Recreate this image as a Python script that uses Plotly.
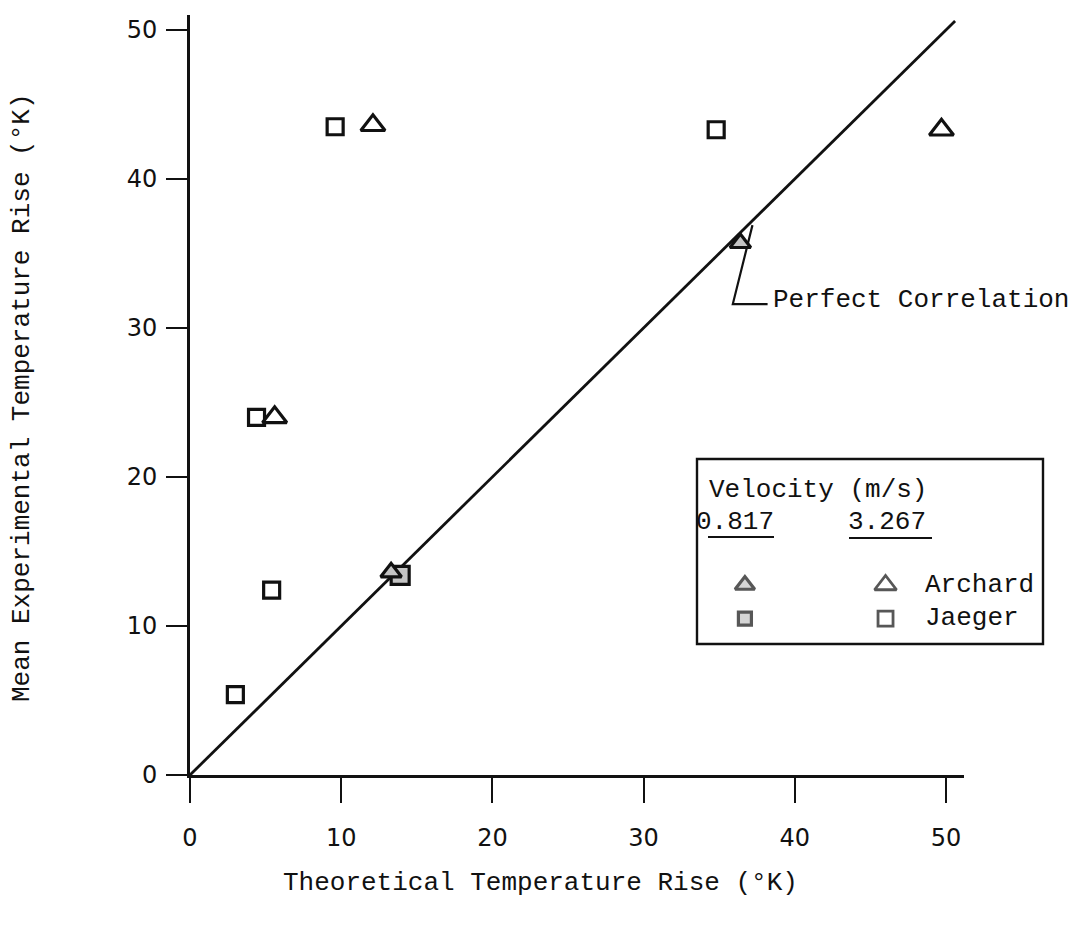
import plotly.graph_objects as go

# ---- data ----
archard_3267_x = [12.1, 49.7, 5.6]
archard_3267_y = [43.6, 43.3, 24.0]
jaeger_3267_x = [9.6, 34.8, 4.4, 5.4, 3.0]
jaeger_3267_y = [43.5, 43.3, 24.0, 12.4, 5.4]
archard_0817_x = [13.3, 36.4]
archard_0817_y = [13.6, 35.7]
jaeger_0817_x = [13.9]
jaeger_0817_y = [13.4]
perfect_x = [0, 50.6]
perfect_y = [0, 50.6]

x_ticks = [0, 10, 20, 30, 40, 50]
y_ticks = [0, 10, 20, 30, 40, 50]

MONO = "Liberation Mono"
INK = "#111111"
GRAY = "#c4c4c4"

fig = go.Figure()

# perfect correlation line
fig.add_trace(go.Scatter(x=perfect_x, y=perfect_y, mode="lines",
                         line=dict(color=INK, width=2.8), hoverinfo="skip"))

# leader line for "Perfect Correlation"
fig.add_trace(go.Scatter(x=[37.2, 35.9, 38.2], y=[36.9, 31.6, 31.6], mode="lines",
                         line=dict(color=INK, width=2.2), hoverinfo="skip"))

def pts(x, y, symbol, size, fill):
    fig.add_trace(go.Scatter(x=x, y=y, mode="markers", cliponaxis=False,
                             marker=dict(symbol=symbol, size=size, color=fill,
                                         line=dict(color=INK, width=3.2))))

pts(jaeger_3267_x, jaeger_3267_y, "square", 16, "white")
pts(archard_3267_x, archard_3267_y, "triangle-up", 21, "white")
pts(jaeger_0817_x, jaeger_0817_y, "square", 18, GRAY)
pts(archard_0817_x, archard_0817_y, "triangle-up", 18, GRAY)

# legend box contents (data coords inside the box)
leg_fill_x = 36.7
leg_open_x = 46.0
leg_y = [12.75, 10.5]
fig.add_trace(go.Scatter(x=[leg_fill_x, leg_fill_x], y=leg_y, mode="markers",
                         marker=dict(symbol=["triangle-up", "square"], size=[17, 13], color=GRAY,
                                     line=dict(color=INK, width=3.2))))
fig.add_trace(go.Scatter(x=[leg_open_x, leg_open_x], y=leg_y, mode="markers",
                         marker=dict(symbol=["triangle-up", "square"], size=[19, 15], color="white",
                                     line=dict(color=INK, width=2.8))))

def px2paper_x(p):
    return (p - 190) / 774.0

def px2paper_y(p):
    return (775 - p) / 760.0

shapes = [
    dict(type="rect", xref="paper", yref="paper",
         x0=px2paper_x(697), x1=px2paper_x(1043), y0=px2paper_y(644), y1=px2paper_y(459),
         line=dict(color=INK, width=2.4)),
    dict(type="line", xref="paper", yref="paper",
         x0=px2paper_x(708), x1=px2paper_x(774), y0=px2paper_y(537), y1=px2paper_y(537),
         line=dict(color=INK, width=2)),
    dict(type="line", xref="paper", yref="paper",
         x0=px2paper_x(849), x1=px2paper_x(932), y0=px2paper_y(538), y1=px2paper_y(538),
         line=dict(color=INK, width=2)),
]

tf = dict(family=MONO, size=26, color=INK)
annotations = [
    dict(text="Perfect Correlation", xref="paper", yref="paper",
         x=px2paper_x(771), y=px2paper_y(300), xanchor="left", yanchor="middle",
         showarrow=False, font=tf),
    dict(text="Velocity (m/s)", xref="paper", yref="paper",
         x=px2paper_x(707), y=px2paper_y(490), xanchor="left", yanchor="middle",
         showarrow=False, font=tf),
    dict(text="0.817", xref="paper", yref="paper",
         x=px2paper_x(694), y=px2paper_y(522), xanchor="left", yanchor="middle",
         showarrow=False, font=tf),
    dict(text="3.267", xref="paper", yref="paper",
         x=px2paper_x(846), y=px2paper_y(522), xanchor="left", yanchor="middle",
         showarrow=False, font=tf),
    dict(text="Archard", xref="paper", yref="paper",
         x=px2paper_x(923), y=px2paper_y(585), xanchor="left", yanchor="middle",
         showarrow=False, font=tf),
    dict(text="Jaeger", xref="paper", yref="paper",
         x=px2paper_x(923), y=px2paper_y(618), xanchor="left", yanchor="middle",
         showarrow=False, font=tf),
    dict(text="Theoretical Temperature Rise (°K)", xref="paper", yref="paper",
         x=px2paper_x(540), y=px2paper_y(883), xanchor="center", yanchor="middle",
         showarrow=False, font=tf),
    dict(text="Mean Experimental Temperature Rise (°K)", xref="paper", yref="paper",
         x=px2paper_x(22), y=px2paper_y(398), xanchor="center", yanchor="middle",
         textangle=-90, showarrow=False, font=tf),
]

tickfont = dict(family="DejaVu Sans", size=24, color=INK)

fig.update_layout(
    width=1077, height=929,
    margin=dict(l=190, r=113, t=15, b=154),
    paper_bgcolor="white", plot_bgcolor="white",
    showlegend=False,
    shapes=shapes, annotations=annotations,
    xaxis=dict(range=[0, 51.19], tickvals=x_ticks, ticktext=[str(v) for v in x_ticks],
               showgrid=False, zeroline=False, showline=True, linecolor=INK, linewidth=2.8,
               ticks="outside", ticklen=25, tickwidth=2.4, tickcolor=INK,
               tickfont=tickfont, ticklabelstandoff=14),
    yaxis=dict(range=[0, 51.0], tickvals=y_ticks, ticktext=[str(v) for v in y_ticks],
               showgrid=False, zeroline=False, showline=True, linecolor=INK, linewidth=2.8,
               ticks="outside", ticklen=21, tickwidth=2.4, tickcolor=INK,
               tickfont=tickfont, ticklabelstandoff=4),
)

fig.write_html("out.html")
